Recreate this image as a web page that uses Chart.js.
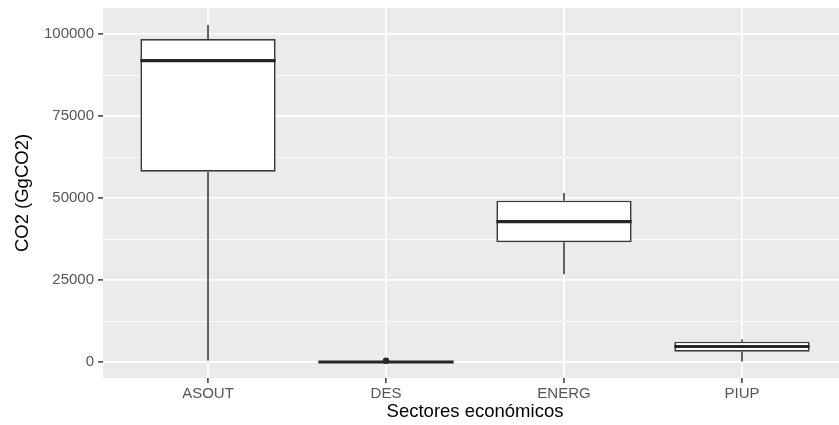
<!DOCTYPE html>
<html>
<head>
<meta charset="utf-8">
<script src="https://cdn.jsdelivr.net/npm/chart.js@4/dist/chart.umd.min.js"></script>
<style>
  html, body { margin: 0; padding: 0; background: #ffffff; overflow: hidden; }
  #wrap { width: 839px; height: 425px; overflow: hidden; }
  canvas { display: block; }
</style>
</head>
<body>
<div id="wrap"><canvas id="chart" width="847" height="425"></canvas></div>
<script>
// Sectors and CO2 emission summaries (GgCO2) for each boxplot
const categories = ['ASOUT', 'DES', 'ENERG', 'PIUP'];
const whiskerLow  = [500,    0,   26830, 250];
const quartile1   = [58100,  30,  36600, 3230];
const median      = [91950,  80,  42870, 4800];
const quartile3   = [98570,  200, 49270, 6280];
const whiskerHigh = [102830, 400, 51620, 6900];
const outliers    = [[], [450], [], []];

// Y axis ticks: labelled majors and unlabelled minor grid lines
const yMajorTicks = [0, 25000, 50000, 75000, 100000];
const yTickLabels = ['0', '25000', '50000', '75000', '100000'];
const yMinorTicks = [12500, 37500, 62500, 87500];

const PANEL_BG = '#EBEBEB';
const LINE = '#3a3a3a';

const panelAndMarks = {
  id: 'panelAndMarks',
  beforeDraw(chart) {
    const { ctx, chartArea: a } = chart;
    ctx.save();
    ctx.fillStyle = PANEL_BG;
    ctx.fillRect(a.left, a.top, a.right - a.left, a.bottom - a.top);
    ctx.restore();
  },
  beforeDatasetsDraw(chart) {
    const { ctx, scales: { x, y } } = chart;
    ctx.save();
    ctx.strokeStyle = LINE;
    ctx.lineWidth = 1.6;
    categories.forEach((c, i) => {
      const px = x.getPixelForValue(i);
      ctx.beginPath();
      ctx.moveTo(px, y.getPixelForValue(whiskerLow[i]));
      ctx.lineTo(px, y.getPixelForValue(quartile1[i]));
      ctx.moveTo(px, y.getPixelForValue(quartile3[i]));
      ctx.lineTo(px, y.getPixelForValue(whiskerHigh[i]));
      ctx.stroke();
    });
    ctx.restore();
  },
  afterDatasetsDraw(chart) {
    const { ctx, scales: { x, y } } = chart;
    const meta = chart.getDatasetMeta(0);
    ctx.save();
    categories.forEach((c, i) => {
      const bar = meta.data[i];
      const half = bar.width / 2;
      const px = x.getPixelForValue(i);
      const py = y.getPixelForValue(median[i]);
      ctx.strokeStyle = '#262626';
      ctx.lineWidth = 3.2;
      ctx.beginPath();
      ctx.moveTo(px - half, py);
      ctx.lineTo(px + half, py);
      ctx.stroke();
      ctx.fillStyle = '#262626';
      outliers[i].forEach(v => {
        ctx.beginPath();
        ctx.arc(px, y.getPixelForValue(v), 3.2, 0, Math.PI * 2);
        ctx.fill();
      });
    });
    ctx.restore();
  }
};

const boxData = categories.map((c, i) => ({ x: i, y: [quartile1[i], quartile3[i]] }));

new Chart(document.getElementById('chart'), {
  type: 'bar',
  data: {
    datasets: [{
      data: boxData,
      backgroundColor: '#ffffff',
      borderColor: LINE,
      borderWidth: 1.7,
      borderSkipped: false,
      barPercentage: 0.76,
      categoryPercentage: 1
    }]
  },
  options: {
    responsive: false,
    devicePixelRatio: 1,
    animation: false,
    layout: { padding: { top: 8, left: 0, right: 0, bottom: 0 } },
    plugins: { legend: { display: false }, tooltip: { enabled: false } },
    scales: {
      x: {
        type: 'linear',
        offset: false,
        min: -0.59,
        max: 3.59,
        afterBuildTicks: s => { s.ticks = categories.map((c, i) => ({ value: i })); },
        afterFit: s => { s.height = 47; s.paddingLeft = 0; s.paddingRight = 0; },
        border: { display: false },
        grid: {
          offset: false,
          color: '#ffffff',
          lineWidth: 1.8,
          tickColor: LINE,
          tickLength: 5,
          tickWidth: 1.5
        },
        ticks: {
          autoSkip: false,
          maxRotation: 0,
          padding: 2,
          color: '#555555',
          font: { family: 'Liberation Sans, Arial, sans-serif', size: 15 },
          callback: v => categories[v] ?? ''
        },
        title: {
          display: true,
          text: 'Sectores económicos',
          color: '#000000',
          font: { family: 'Liberation Sans, Arial, sans-serif', size: 18.5 },
          padding: { top: 0, bottom: 2 }
        }
      },
      y: {
        type: 'linear',
        min: -4800,
        max: 108000,
        afterBuildTicks: s => {
          s.ticks = [...yMajorTicks, ...yMinorTicks].sort((a, b) => a - b).map(v => ({ value: v }));
        },
        afterFit: s => { s.width = 103; s.paddingTop = 0; s.paddingBottom = 0; },
        border: { display: false },
        grid: {
          color: '#ffffff',
          lineWidth: c => yMajorTicks.includes(c.tick.value) ? 1.8 : 0.9,
          tickColor: c => yMajorTicks.includes(c.tick.value) ? LINE : 'rgba(0,0,0,0)',
          tickLength: 5,
          tickWidth: 1.5
        },
        ticks: {
          autoSkip: false,
          padding: 4,
          color: '#555555',
          font: { family: 'Liberation Sans, Arial, sans-serif', size: 15 },
          callback: v => {
            const k = yMajorTicks.indexOf(v);
            return k >= 0 ? yTickLabels[k] : '';
          }
        },
        title: {
          display: true,
          text: 'CO2 (GgCO2)',
          color: '#000000',
          font: { family: 'Liberation Sans, Arial, sans-serif', size: 18.5 },
          padding: { top: 12, bottom: 0 }
        }
      }
    }
  },
  plugins: [panelAndMarks]
});
</script>
</body>
</html>
